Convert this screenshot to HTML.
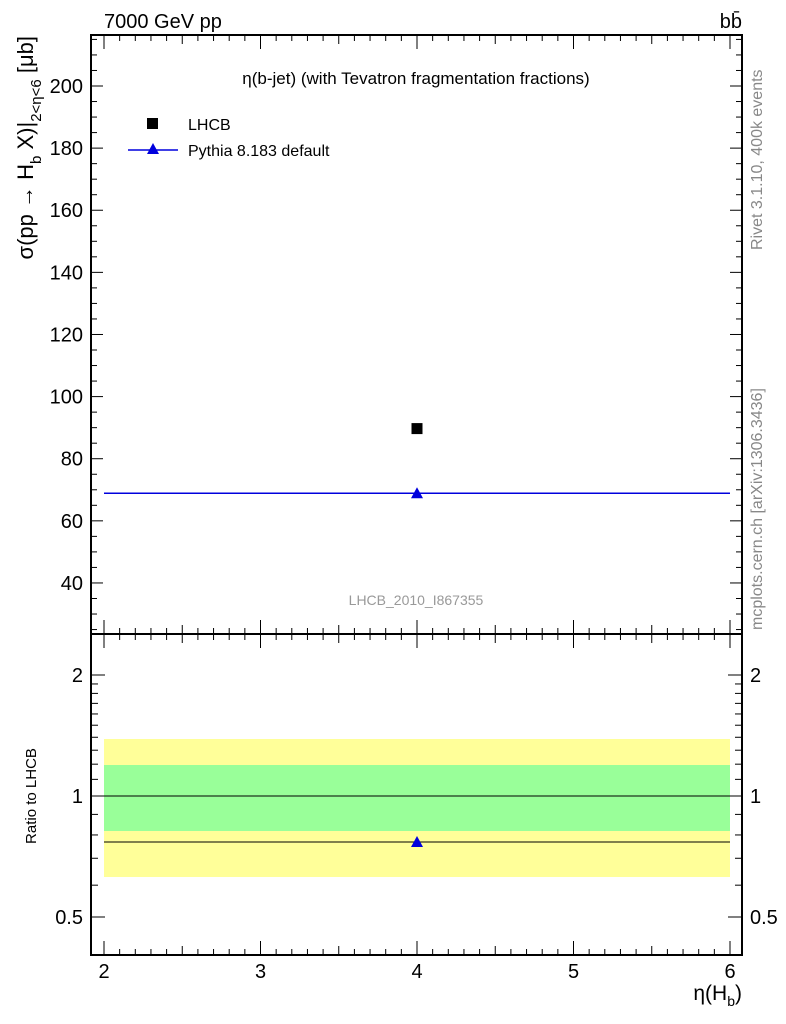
<!DOCTYPE html>
<html><head><meta charset="utf-8"><style>
body{margin:0;background:#fff}
svg{display:block;font-family:"Liberation Sans",sans-serif}
</style></head><body>
<svg id="chart" width="786" height="1024" viewBox="0 0 786 1024">
<rect x="104" y="739" width="626" height="138" fill="#ffff99"/>
<rect x="104" y="765" width="626" height="66" fill="#99ff99"/>
<g id="axes"></g>
<g id="marks"></g>
<text x="104" y="28" font-size="20">7000 GeV pp</text>
<text x="742" y="28" font-size="20" text-anchor="end">bb̄</text>
<text x="416" y="84" font-size="17" text-anchor="middle">η(b-jet) (with Tevatron fragmentation fractions)</text>
<text x="416" y="605" font-size="14" fill="#999" text-anchor="middle">LHCB_2010_I867355</text>
<rect x="147" y="118" width="11" height="11" fill="#000"/>
<text x="188" y="130" font-size="16">LHCB</text>
<line x1="128" y1="150" x2="178" y2="150" stroke="#0000dd" stroke-width="1.5"/>
<polygon points="153,143 159,154 147,154" fill="#0000dd"/>
<text x="188" y="156" font-size="16">Pythia 8.183 default</text>
<text transform="translate(33,36) rotate(-90)" font-size="22" text-anchor="end">σ(pp → H<tspan font-size="15" dy="8">b</tspan><tspan dy="-8"> X)|</tspan><tspan font-size="15" dy="8">2&lt;η&lt;6</tspan><tspan dy="-8"> [μb]</tspan></text>
<text transform="translate(36,796) rotate(-90)" font-size="15" text-anchor="middle">Ratio to LHCB</text>
<text x="742" y="1000" font-size="21" text-anchor="end">η(H<tspan font-size="14" dy="6">b</tspan><tspan dy="-6">)</tspan></text>
<text transform="translate(762,250) rotate(-90)" font-size="16" fill="#888">Rivet 3.1.10,  400k events</text>
<text transform="translate(762,630) rotate(-90)" font-size="16" fill="#888">mcplots.cern.ch [arXiv:1306.3436]</text>
</svg>
<script>
const categories=["2-6"];
const binLo=[2];
const binHi=[6];
const lhcbValues=[89.7];
const pythiaValues=[68.9];
const yTicks=[40,60,80,100,120,140,160,180,200];
const xTicks=[2,3,4,5,6];
const rTicks=[0.5,1,2];
const NS="http://www.w3.org/2000/svg";
const L=91,R=742,T=35,M=634,B=955;
const xs=v=>104+(v-2)*156.5;
const ys=v=>86+(200-v)*3.106;
const rs=v=>796-Math.log2(v)*121;
const ax=document.getElementById('axes'),mk=document.getElementById('marks');
function el(p,t,a){const e=document.createElementNS(NS,t);for(const k in a)e.setAttribute(k,a[k]);p.appendChild(e);return e;}
function ln(x1,y1,x2,y2,w){return el(ax,'line',{x1,y1,x2,y2,stroke:'#000','stroke-width':w||1});}
const f1=el(ax,'rect',{x:L,y:T,width:R-L,height:M-T,fill:'none',stroke:'#000','stroke-width':2});


const f2=el(ax,'rect',{x:L,y:M,width:R-L,height:B-M,fill:'none',stroke:'#000','stroke-width':2});


for(let v=25;v<=215;v+=5){const y=ys(v);if(y<T||y>M)continue;const maj=v%20===0;const l=maj?12:6;ln(L,y,L+l,y);ln(R,y,R-l,y);}
yTicks.forEach(v=>{const t=el(ax,'text',{x:L-8,y:ys(v)+7,'font-size':20,'text-anchor':'end'});t.textContent=v;

});
for(let i=19;i<=61;i++){const v=i/10,x=xs(v);if(x<L||x>R)continue;const l=i%10===0?14:(i%5===0?9:6);
[M,B].forEach(y=>{ln(x,y,x,y-l);});[T,M].forEach(y=>{ln(x,y,x,y+l);});}
xTicks.forEach(v=>{const t=el(ax,'text',{x:xs(v),y:978,'font-size':20,'text-anchor':'middle'});t.textContent=v;

});
for(let v=0.4;v<=2.5;v+=(v<2?0.1:0.5)){const y=rs(v);if(y<M||y>B)continue;const maj=Math.abs(v-0.5)<1e-6||Math.abs(v-1)<1e-6||Math.abs(v-2)<1e-6;const l=maj?14:7;ln(L,y,L+l,y);ln(R,y,R-l,y);}
rTicks.forEach(v=>{[[L-8,'end'],[R+8,'start']].forEach(([x,a])=>{const t=el(ax,'text',{x,y:rs(v)+7,'font-size':20,'text-anchor':a});t.textContent=v;

});});
const ref=ln(L,rs(1),R,rs(1),1);


categories.forEach((c,i)=>{
 const cx=xs((binLo[i]+binHi[i])/2);
 const sq=el(mk,'rect',{x:cx-5.5,y:ys(lhcbValues[i])-5.5,width:11,height:11,fill:'#000'});
 
 
 const py=ys(pythiaValues[i]);
 const pl=el(mk,'line',{x1:xs(binLo[i]),y1:py,x2:xs(binHi[i]),y2:py,stroke:'#0000dd','stroke-width':1.5});
 
 
 const tr=el(mk,'polygon',{points:`${cx},${py-6} ${cx+6},${py+5} ${cx-6},${py+5}`,fill:'#0000dd'});
 
 
 const rv=pythiaValues[i]/lhcbValues[i],ry=rs(rv);
 const rl=el(mk,'line',{x1:xs(binLo[i]),y1:ry,x2:xs(binHi[i]),y2:ry,stroke:'#000','stroke-width':1});
 
 
 const rt=el(mk,'polygon',{points:`${cx},${ry-6} ${cx+6},${ry+5} ${cx-6},${ry+5}`,fill:'#0000dd'});
 
 
});
</script>
</body></html>
